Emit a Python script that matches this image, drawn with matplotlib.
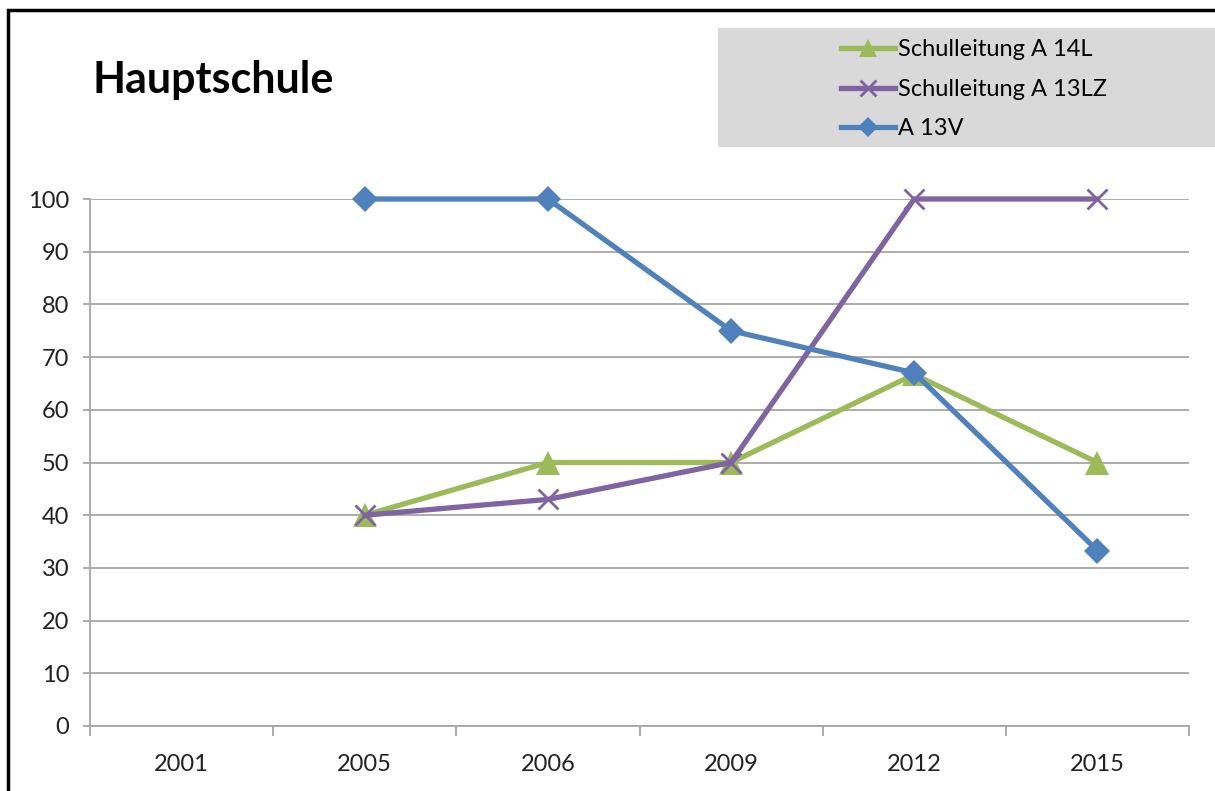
import matplotlib.pyplot as plt
from matplotlib.patches import Rectangle
import numpy as np

# ==============================
# DATEN
# ==============================

JAHRE = ["2001", "2005", "2006", "2009", "2012", "2015"]
A_14L = [np.nan, 40, 50, 50, 66.7, 50]
A_13LZ = [np.nan, 40, 43, 50, 100, 100]
A_13V = [np.nan, 100, 100, 75, 67, 33.3]

TITEL = "Hauptschule"
NAMEN = ["Schulleitung A 14L", "Schulleitung A 13LZ", "A 13V"]

GRUEN = "#9BBB59"
LILA = "#8064A2"
BLAU = "#4F81BD"
GRAU = "#A6A6A6"

plt.rcParams['font.family'] = ['Lato', 'DejaVu Sans']

# ==============================
# FIGUR
# ==============================

fig = plt.figure(figsize=(12.15, 7.91), dpi=100)
ax = fig.add_axes([90 / 1215, 1 - 726 / 791, (1189 - 90) / 1215, (726 - 199) / 791])

x = np.arange(len(JAHRE))

l1, = ax.plot(x, A_14L, color=GRUEN, lw=3.8, marker='^', markersize=17,
              markeredgewidth=0, zorder=3, clip_on=False)
l2, = ax.plot(x, A_13LZ, color=LILA, lw=3.8, marker='x', markersize=15,
              markeredgewidth=2, zorder=4, clip_on=False)
l3, = ax.plot(x, A_13V, color=BLAU, lw=3.8, marker='D', markersize=13,
              markeredgewidth=0, zorder=5, clip_on=False)

ax.set_xlim(-0.5, len(JAHRE) - 0.5)
ax.set_ylim(0, 100)
ax.set_yticks(range(0, 101, 10))
ax.yaxis.grid(True, color=GRAU, lw=1.3)
ax.set_axisbelow(True)

# Kategorien: Striche an den Grenzen, Beschriftung in der Mitte
ax.set_xticks(np.arange(-0.5, len(JAHRE), 1.0))
ax.set_xticklabels([])
ax.set_xticks(x, minor=True)
ax.set_xticklabels(JAHRE, minor=True)
ax.tick_params(axis='x', which='major', length=7, width=1.3, color=GRAU, direction='out')
ax.tick_params(axis='x', which='minor', length=0, pad=20, labelsize=17, labelcolor='#222222')
ax.tick_params(axis='y', length=5, width=1.3, color=GRAU, pad=10, labelsize=17,
               labelcolor='#222222')

for s in ['top', 'right']:
    ax.spines[s].set_visible(False)
for s in ['left', 'bottom']:
    ax.spines[s].set_color(GRAU)
    ax.spines[s].set_linewidth(1.3)

# Titel
fig.text(92 / 1215, 1 - 80 / 791, TITEL, fontsize=31, fontweight='bold',
         va='center', ha='left', color='black')

# Legende mit grauem Hintergrund
fig.patches.append(Rectangle((718 / 1215, 1 - 147 / 791), 1, 119 / 791,
                             transform=fig.transFigure, facecolor='#D9D9D9',
                             edgecolor='none', zorder=0))
leg = fig.legend([l1, l2, l3], NAMEN, loc='upper left',
                 bbox_to_anchor=(832 / 1215, 1 - 30 / 791), frameon=False,
                 fontsize=17, handlelength=2.25, handletextpad=0.15,
                 labelspacing=0.78, borderaxespad=0, markerscale=0.75)

# Rahmen um das Diagramm
fig.patches.append(Rectangle((8 / 1215, -0.1), 1.2, 1.1 - 10 / 791,
                             transform=fig.transFigure, facecolor='none',
                             edgecolor='black', lw=2.5, zorder=10))

fig.savefig("out.png", dpi=100)
plt.close(fig)
